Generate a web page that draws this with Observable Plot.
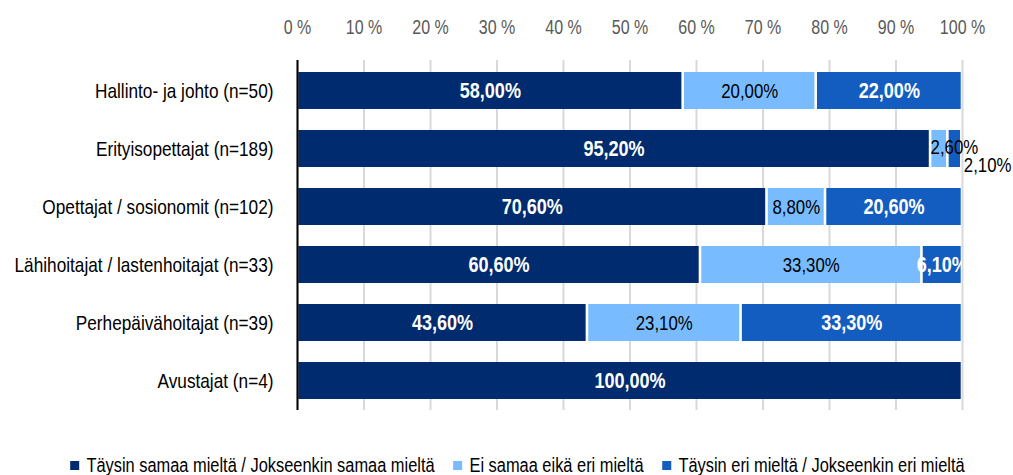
<!DOCTYPE html>
<html><head><meta charset="utf-8">
<script src="https://cdn.jsdelivr.net/npm/d3@7"></script>
<script src="https://cdn.jsdelivr.net/npm/@observablehq/plot@0.6"></script>
<style>
body{margin:0;background:#fff;font-family:"Liberation Sans",Arial,sans-serif;overflow:hidden;}
#legend{display:flex;justify-content:center;font-size:20px;line-height:24px;padding-top:8px;color:#000;white-space:nowrap;transform:translateX(11px) scaleX(0.82);transform-origin:50% 50%;}
#legend .item{display:flex;align-items:center;margin:0 11.5px;}
#legend .sw{display:inline-block;width:11px;height:9px;margin-right:8.5px;}
</style></head>
<body>
<div id="chart"></div>
<div id="legend"></div>
<script>
const categories = ["Hallinto- ja johto (n=50)", "Erityisopettajat (n=189)", "Opettajat / sosionomit (n=102)", "Lähihoitajat / lastenhoitajat (n=33)", "Perhepäivähoitajat (n=39)", "Avustajat (n=4)"];
const seriesNames = ["Täysin samaa mieltä / Jokseenkin samaa mieltä", "Ei samaa eikä eri mieltä", "Täysin eri mieltä / Jokseenkin eri mieltä"];
const agree    = [58.0, 95.2, 70.6, 60.6, 43.6, 100.0];
const neutral  = [20.0,  2.6,  8.8, 33.3, 23.1,   0.0];
const disagree = [22.0,  2.1, 20.6,  6.1, 33.3,   0.0];
const xTicks = [0, 10, 20, 30, 40, 50, 60, 70, 80, 90, 100];
const colors = ["#002b6e", "#78bcff", "#135dc0"];

const seriesValues = [agree, neutral, disagree];
const rows = [];
categories.forEach((cat, i) => {
  let cum = 0;
  seriesValues.forEach((vals, si) => {
    const v = vals[i];
    if (v > 0) rows.push({cat, si, series: seriesNames[si], value: v, x1: cum, x2: cum + v,
      label: v.toFixed(2).replace(".", ",") + "%"});
    cum += v;
  });
});
const inside = rows.filter(d => d.value >= 5);
const small = rows.filter(d => d.value < 5);
const font = '"Liberation Sans",Arial,sans-serif';

const chart = Plot.plot({
  width: 1013, height: 445,
  marginTop: 60, marginBottom: 35, marginLeft: 297, marginRight: 51,
  style: {fontFamily: font, background: "#fff", overflow: "visible"},
  x: {domain: [0, 100]},
  y: {domain: categories, paddingInner: 0.37, paddingOuter: 0.185},
  color: {domain: seriesNames, range: colors},
  marks: [
    Plot.gridX(xTicks, {stroke: "#d9d9d9", strokeOpacity: 1, strokeWidth: 2}),
    Plot.barX(rows, {x1: "x1", x2: "x2", y: "cat", fill: "series", insetLeft: 1.3, insetRight: 1.3}),
    Plot.text(inside.filter(d => d.si !== 1), {x: d => (d.x1 + d.x2) / 2, y: "cat", text: "label", fill: "#fff", fontWeight: "bold", fontSize: 22, clip: true}),
    Plot.text(inside.filter(d => d.si === 1), {x: d => (d.x1 + d.x2) / 2, y: "cat", text: "label", fill: "#000", fontSize: 20.5, clip: true}),
    Plot.text(small.filter(d => d.si === 1), {x: "x1", y: "cat", text: "label", fill: "#000", fontSize: 20.5, textAnchor: "start", dy: -2}),
    Plot.text(small.filter(d => d.si === 2), {x: "x2", y: "cat", text: "label", fill: "#000", fontSize: 20.5, textAnchor: "start", dx: 2, dy: 16}),
    Plot.ruleX([0], {stroke: "#000", strokeWidth: 2}),
    Plot.axisX(xTicks, {anchor: "top", tickSize: 0, tickPadding: 27, tickFormat: d => `${d} %`, fontSize: 19.5, color: "#595959", label: null}),
    Plot.axisY({tickSize: 0, tickPadding: 24, fontSize: 21, color: "#000", label: null})
  ]
});
document.getElementById("chart").appendChild(chart);

// condensed look: compress glyphs horizontally
chart.querySelectorAll("text").forEach(t => {
  const w = t.getComputedTextLength();
  if (w > 0) {
    t.setAttribute("textLength", (w * 0.82).toFixed(2));
    t.setAttribute("lengthAdjust", "spacingAndGlyphs");
  }
});

const legend = document.getElementById("legend");
seriesNames.forEach((name, i) => {
  const it = document.createElement("span");
  it.className = "item";
  it.innerHTML = `<span class="sw" style="background:${colors[i]}"></span><span>${name}</span>`;
  legend.appendChild(it);
});
</script>
</body></html>
